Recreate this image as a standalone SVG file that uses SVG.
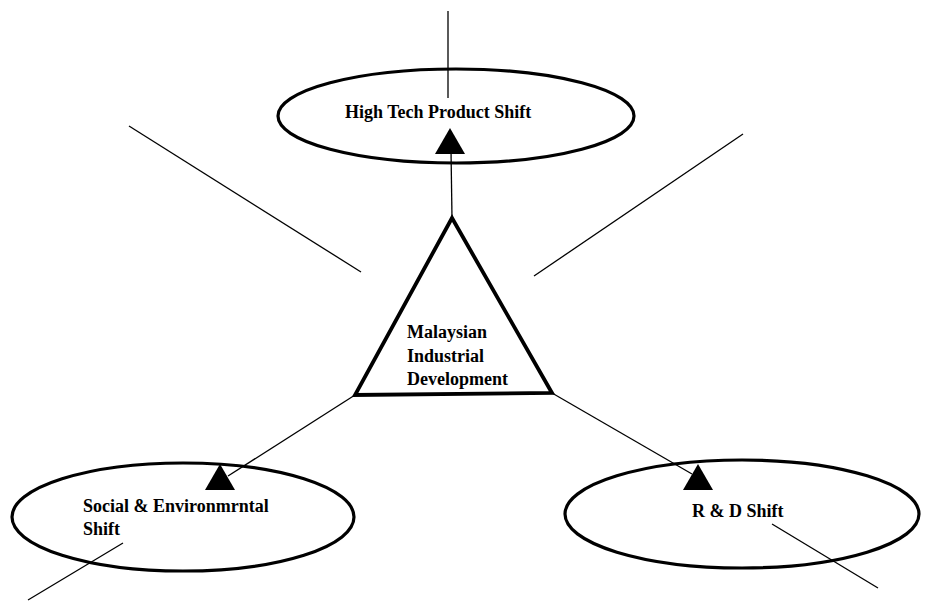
<svg xmlns="http://www.w3.org/2000/svg" xmlns:xlink="http://www.w3.org/1999/xlink" width="928" height="601" viewBox="0 0 928 601">
<style>
.ell{fill:none;stroke:#000;stroke-width:3.2}
.tri{fill:none;stroke:#000;stroke-width:3.8;stroke-linejoin:miter}
.ln{stroke:#000;stroke-width:1.3;fill:none}
.lbl{font-family:"Liberation Serif","Times New Roman",serif;font-weight:bold;font-size:18px;fill:#000}
</style>
<defs>
<polygon id="arrowUp" points="0,0 -15,26 15,26" fill="#000"/>
</defs>
<rect width="928" height="601" fill="#fff"/>
<g id="connectors">
<line class="ln" x1="448" y1="11" x2="448" y2="98"/>
<line class="ln" x1="452" y1="218" x2="451" y2="150"/>
<use xlink:href="#arrowUp" x="450" y="128"/>
<line class="ln" x1="129" y1="126" x2="361" y2="272"/>
<line class="ln" x1="743" y1="134" x2="534" y2="276"/>
<line class="ln" x1="355" y1="395" x2="228" y2="476"/>
<use xlink:href="#arrowUp" x="220" y="464"/>
<line class="ln" x1="552" y1="393" x2="692" y2="474"/>
<use xlink:href="#arrowUp" x="698" y="464"/>
<line class="ln" x1="123" y1="543" x2="28" y2="600"/>
<line class="ln" x1="772" y1="524" x2="878" y2="588"/>
</g>
<g id="high-tech">
<ellipse class="ell" cx="456" cy="116" rx="178" ry="47"/>
<text class="lbl" x="345" y="118">High Tech Product Shift</text>
</g>
<g id="malaysian-industrial-development">
<polygon class="tri" points="452,218 355,395 552,393"/>
<text class="lbl" x="407" y="338">Malaysian</text>
<text class="lbl" x="407" y="362">Industrial</text>
<text class="lbl" x="407" y="385">Development</text>
</g>
<g id="social-environmental">
<ellipse class="ell" cx="183" cy="517" rx="171" ry="54"/>
<text class="lbl" x="83" y="512">Social &amp; Environmrntal</text>
<text class="lbl" x="83" y="535">Shift</text>
</g>
<g id="rd-shift">
<ellipse class="ell" cx="742" cy="514" rx="177" ry="54"/>
<text class="lbl" x="692" y="517">R &amp; D Shift</text>
</g>
</svg>
